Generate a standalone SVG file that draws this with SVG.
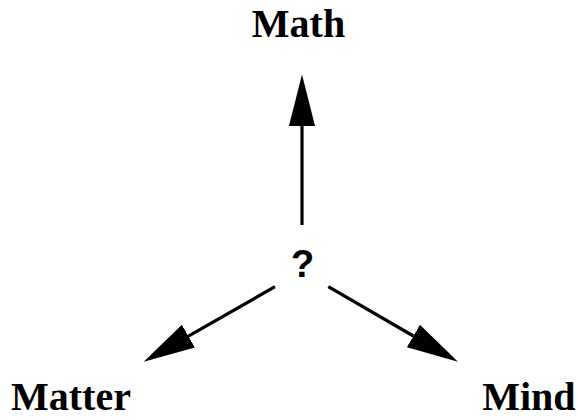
<svg xmlns="http://www.w3.org/2000/svg" width="578" height="420" viewBox="0 0 578 420">
<style>
.lbl{font-family:"Liberation Serif","Times New Roman",serif;font-weight:bold;font-size:40px;fill:#000}
.q{font-family:"Liberation Sans",Arial,sans-serif;font-weight:bold;font-size:38px;fill:#000}
.edge{stroke:#000;stroke-width:3.2;fill:none;marker-end:url(#ah)}
</style>
<defs>
<marker id="ah" markerUnits="userSpaceOnUse" markerWidth="52" markerHeight="28" viewBox="0 -13 51 26" refX="0" refY="0" orient="auto">
<path d="M0,-12.8 L50.5,0 L0,12.8 Z" fill="#000"/>
</marker>
</defs>
<rect width="578" height="420" fill="#fff"/>
<g id="math"><text class="lbl" x="298.5" y="37" text-anchor="middle">Math</text></g>
<g id="center"><text class="q" x="302.5" y="277" text-anchor="middle">?</text></g>
<g id="matter"><text class="lbl" x="11" y="410">Matter</text></g>
<g id="mind"><text class="lbl" x="575.5" y="410" text-anchor="end">Mind</text></g>
<g id="connectors">
<line class="edge" x1="302" y1="225" x2="302" y2="126"/>
<line class="edge" x1="275" y1="286.7" x2="188.4" y2="336.2"/>
<line class="edge" x1="328.3" y1="286.7" x2="413.4" y2="336"/>
</g>
</svg>
